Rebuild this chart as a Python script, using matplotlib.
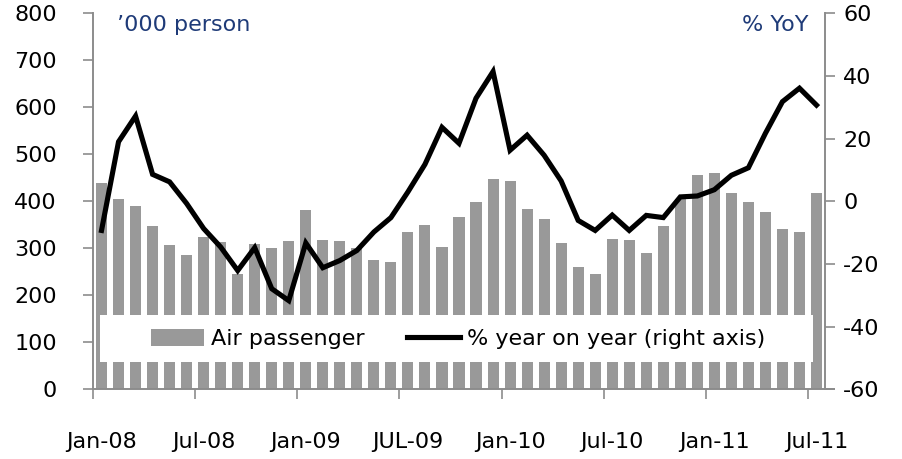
import matplotlib
matplotlib.use("Agg")
import matplotlib.pyplot as plt
import numpy as np
from matplotlib.patches import Patch, Rectangle
from matplotlib.lines import Line2D

# Data: Jan-08 .. Jul-11 (43 months)
months = ["Jan-08", "Feb-08", "Mar-08", "Apr-08", "May-08", "Jun-08", "Jul-08", "Aug-08", "Sep-08",
          "Oct-08", "Nov-08", "Dec-08", "Jan-09", "Feb-09", "Mar-09", "Apr-09", "May-09", "Jun-09",
          "JUL-09", "Aug-09", "Sep-09", "Oct-09", "Nov-09", "Dec-09", "Jan-10", "Feb-10", "Mar-10",
          "Apr-10", "May-10", "Jun-10", "Jul-10", "Aug-10", "Sep-10", "Oct-10", "Nov-10", "Dec-10",
          "Jan-11", "Feb-11", "Mar-11", "Apr-11", "May-11", "Jun-11", "Jul-11"]
passengers = [440, 404, 391, 348, 306, 285, 325, 314, 246, 310, 301, 316, 381, 318, 316,
              300, 276, 271, 335, 350, 302, 367, 399, 447, 444, 384, 362, 311, 260, 246,
              320, 318, 289, 347, 405, 456, 461, 417, 399, 377, 342, 335, 418]
yoy = [-9.3, 19.0, 27.2, 8.6, 6.2, -0.7, -8.7, -14.6, -22.1, -14.8, -27.9, -31.7, -13.3, -21.2,
       -18.9, -15.7, -9.8, -5.2, 3.0, 11.8, 23.6, 18.5, 32.9, 41.4, 16.3, 21.1, 14.7, 6.5,
       -6.1, -9.3, -4.4, -9.3, -4.5, -5.2, 1.4, 1.7, 3.7, 8.3, 10.7, 21.7, 31.8, 36.1, 30.7]
left_ticks = [0, 100, 200, 300, 400, 500, 600, 700, 800]
right_ticks = [-60, -40, -20, 0, 20, 40, 60]
label_idx = [0, 6, 12, 18, 24, 30, 36, 42]

plt.rcParams['font.family'] = ['DejaVu Sans']
plt.rcParams['axes.unicode_minus'] = False

fig = plt.figure(figsize=(9.02, 4.59), dpi=100)
ax = fig.add_axes([93/902, 1 - 389.3/459, (825-93)/902, (389.3-13.3)/459])
ax2 = ax.twinx()

x = np.arange(len(months))
gray_axis = "#8c8c8c"
bar_color = "#999999"

ax.bar(x, passengers, width=0.65, color=bar_color, zorder=2)
ax2.plot(x, yoy, color="black", linewidth=3.7, solid_joinstyle="miter", zorder=3)

ax.set_xlim(-0.5, len(months) - 0.5)
ax.set_ylim(0, 800)
ax.set_yticks(left_ticks)
ax2.set_ylim(-60, 60)
ax2.set_yticks(right_ticks)

# x ticks: marks at category boundaries, labels at category centers
ax.set_xticks([i - 0.5 for i in label_idx], minor=True)
ax.set_xticks(label_idx)
ax.set_xticklabels([months[i] for i in label_idx])
ax.tick_params(axis='x', which='major', length=0, pad=31, labelsize=16)
ax.tick_params(axis='x', which='minor', length=7, width=1.2, color=gray_axis, direction='out')
ax2.tick_params(axis='y', which='major', length=7, width=1.2, color=gray_axis, labelsize=16, pad=6)
ax.tick_params(axis='y', which='major', length=7, width=1.2, color=gray_axis, labelsize=16,
               pad=19, left=True, labelleft=True)

for a in (ax, ax2):
    a.spines['top'].set_visible(False)
    for s in ('left', 'right', 'bottom'):
        a.spines[s].set_color(gray_axis)
        a.spines[s].set_linewidth(1.4)
ax2.spines['bottom'].set_visible(False)
ax.spines['right'].set_visible(False)
ax2.spines['left'].set_visible(False)

# bottom axis line extends slightly past the right axis
ax.add_line(Line2D([1.0, 1.0125], [0, 0], transform=ax.transAxes, color=gray_axis,
                   linewidth=1.4, clip_on=False))

ax.text(117/902, 1 - 25/459, "\u2019000 person", transform=fig.transFigure, fontsize=16,
        color="#1f3b78", va="center", ha="left")
ax.text(808/902, 1 - 25/459, "% YoY", transform=fig.transFigure, fontsize=16,
        color="#1f3b78", va="center", ha="right")

# white legend box
ax2.add_patch(Rectangle((100/902, 1 - 362/459), (813-100)/902, (362-315)/459,
                        transform=fig.transFigure, facecolor="white", edgecolor="none",
                        zorder=4, clip_on=False))

handles = [Patch(facecolor=bar_color, edgecolor='none', label="Air passenger"),
           Line2D([0], [0], color="black", linewidth=3.7, label="% year on year (right axis)")]
leg = ax2.legend(handles=handles, ncol=2, loc='center left',
                 bbox_to_anchor=(140/902, 1 - 339/459),
                 bbox_transform=fig.transFigure, frameon=False,
                 fontsize=16, handlelength=2.4, handleheight=0.8, columnspacing=1.9,
                 handletextpad=0.3, borderpad=0.0)
leg.set_zorder(5)

fig.savefig("out.png", dpi=100)
